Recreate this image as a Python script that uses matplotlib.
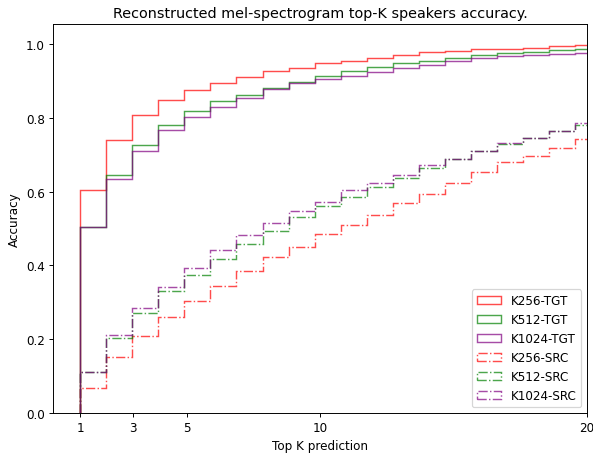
import numpy as np
import matplotlib
matplotlib.use("Agg")
import matplotlib.pyplot as plt

# bin edges along the "Top K" axis (20 bins)
edges = [1.0, 1.977, 2.954, 3.931, 4.908, 5.885, 6.862, 7.839, 8.816, 9.793, 10.77,
         11.747, 12.724, 13.701, 14.678, 15.655, 16.632, 17.609, 18.586, 19.563, 20.54]

k256_tgt = [0.604, 0.741, 0.808, 0.849, 0.876, 0.893, 0.909, 0.926, 0.935, 0.949,
            0.955, 0.961, 0.970, 0.977, 0.981, 0.985, 0.987, 0.990, 0.994, 0.998]
k512_tgt = [0.505, 0.646, 0.726, 0.781, 0.817, 0.844, 0.861, 0.880, 0.896, 0.912,
            0.926, 0.937, 0.948, 0.954, 0.963, 0.970, 0.976, 0.979, 0.983, 0.986]
k1024_tgt = [0.505, 0.633, 0.709, 0.768, 0.802, 0.828, 0.854, 0.879, 0.893, 0.906,
             0.912, 0.923, 0.934, 0.943, 0.954, 0.961, 0.967, 0.969, 0.972, 0.975]
k256_src = [0.067, 0.151, 0.210, 0.259, 0.304, 0.345, 0.385, 0.424, 0.449, 0.486,
            0.510, 0.537, 0.568, 0.594, 0.623, 0.653, 0.679, 0.695, 0.718, 0.742]
k512_src = [0.110, 0.202, 0.271, 0.330, 0.373, 0.416, 0.458, 0.494, 0.530, 0.560,
            0.584, 0.612, 0.637, 0.663, 0.688, 0.711, 0.730, 0.745, 0.763, 0.780]
k1024_src = [0.112, 0.211, 0.285, 0.341, 0.394, 0.442, 0.482, 0.516, 0.547, 0.573,
             0.603, 0.623, 0.645, 0.672, 0.688, 0.711, 0.731, 0.745, 0.765, 0.785]

series = [
    ("K256-TGT", k256_tgt, "red", "-"),
    ("K512-TGT", k512_tgt, "green", "-"),
    ("K1024-TGT", k1024_tgt, "purple", "-"),
    ("K256-SRC", k256_src, "red", "-."),
    ("K512-SRC", k512_src, "green", "-."),
    ("K1024-SRC", k1024_src, "purple", "-."),
]

DPI = 86.4
fig = plt.figure(figsize=(593 / DPI, 454 / DPI), dpi=DPI)
ax = fig.add_axes([0.090, 0.088, 0.900, 0.857])

for label, vals, col, ls in series:
    ax.hist(edges[:-1], bins=edges, weights=vals, histtype="step", lw=1.2,
            color=col, linestyle=ls, alpha=0.7, label=label)

ax.set_xlim(0, 20)
ax.set_ylim(0, 1.054)
ax.set_xticks([1, 3, 5, 10, 20])
ax.set_xlabel("Top K prediction")
ax.set_ylabel("Accuracy")
ax.set_title("Reconstructed mel-spectrogram top-K speakers accuracy.")
ax.legend(loc="lower right")

fig.savefig("out.png", dpi=DPI)
